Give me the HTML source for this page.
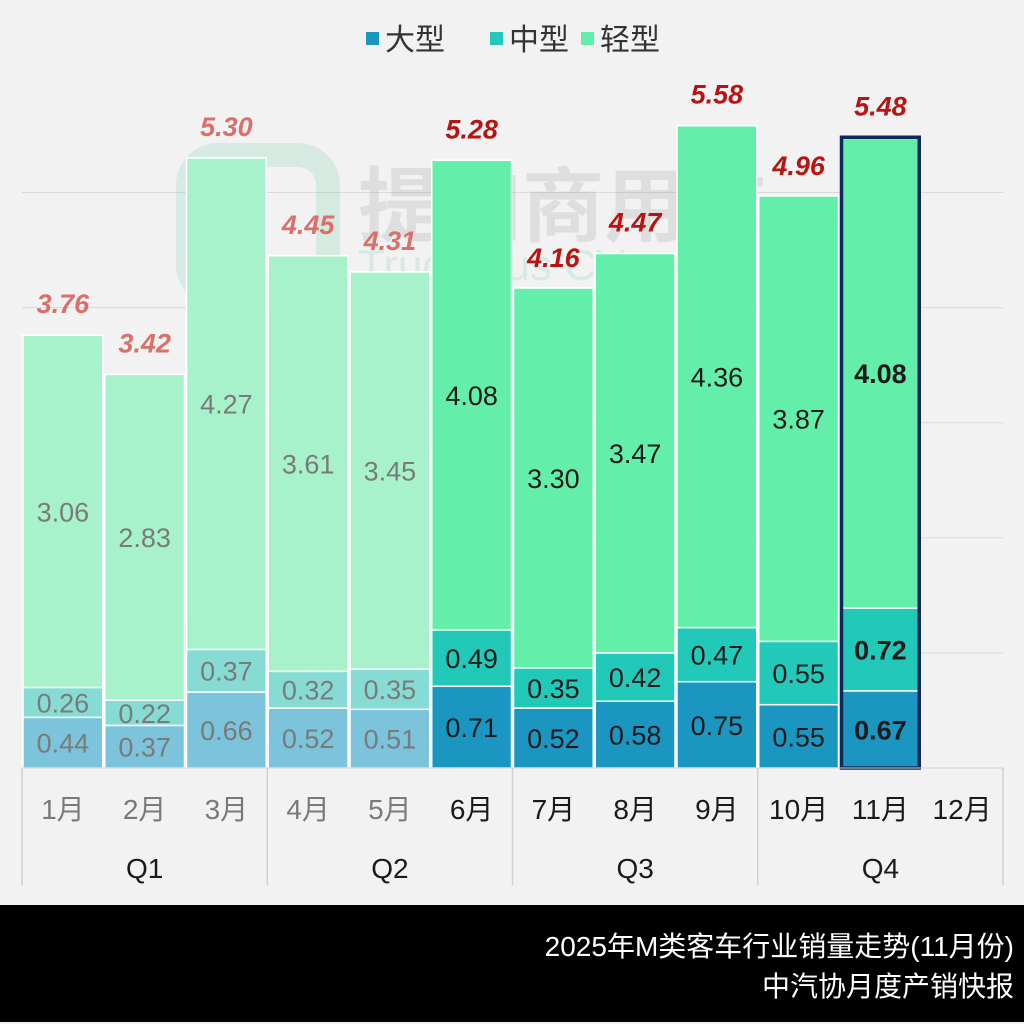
<!DOCTYPE html>
<html><head><meta charset="utf-8">
<style>
body{margin:0;background:#f2f2f2;font-family:"Liberation Sans","Noto Sans CJK SC",sans-serif;}
#wrap{position:relative;width:1024px;height:1024px;overflow:hidden;background:#f2f2f2;}
svg text{font-family:"Liberation Sans","Noto Sans CJK SC",sans-serif;}
</style></head>
<body>
<div id="wrap">
<svg id="chart" width="1024" height="1024"></svg>
</div>
<script>
const months=["1月","2月","3月","4月","5月","6月","7月","8月","9月","10月","11月","12月"];
const large=[0.44,0.37,0.66,0.52,0.51,0.71,0.52,0.58,0.75,0.55,0.67,null];
const medium=[0.26,0.22,0.37,0.32,0.35,0.49,0.35,0.42,0.47,0.55,0.72,null];
const light=[3.06,2.83,4.27,3.61,3.45,4.08,3.30,3.47,4.36,3.87,4.08,null];
const totals=[3.76,3.42,5.30,4.45,4.31,5.28,4.16,4.47,5.58,4.96,5.48,null];
const quarters=["Q1","Q2","Q3","Q4"];
const yTicks=[1,2,3,4,5];

const NS="http://www.w3.org/2000/svg";
const svg=document.getElementById('chart');
const X0=22,X1=1003,BASE=768,PPU=115.1;
const bw=(X1-X0)/12;
const xPos=i=>X0+i*bw;
const yPos=v=>BASE-v*PPU;
function mk(tag,attrs,parent){const e=document.createElementNS(NS,tag);for(const k in attrs)e.setAttribute(k,attrs[k]);(parent||svg).appendChild(e);return e;}

yTicks.forEach(t=>{
  const l=mk('line',{x1:X0,x2:X1,y1:yPos(t),y2:yPos(t),stroke:'#d9d9d9','stroke-width':1});
  
  
});

[[183,150,'#5fc9a0'],[183,610,'#5fc9a0']].forEach(([x,y,c])=>{
  const g=mk('g',{opacity:0.18});
  
  
  mk('rect',{x:x+5,y:y+5,width:140,height:140,rx:30,fill:'none',stroke:c,'stroke-width':24},g);
  const t=mk('text',{x:x+175,y:y+85,'font-size':82,'font-weight':'bold',fill:'#888'},g);t.textContent='提加商用车';
  const t2=mk('text',{x:x+175,y:y+130,'font-size':44,fill:c},g);t2.textContent='TruckPlus CV studio';
});

const colsFull={l:'#1a96c0',m:'#22c9b8',g:'#63eeaa'};
const colsFade={l:'#7cc3dc',m:'#86dcd5',g:'#a8f2cb'};
for(let i=0;i<12;i++){
  if(large[i]==null)continue;
  const fade=i<5, bold=i===10;
  const c=fade?colsFade:colsFull;
  const tc=fade?'#7a7a7a':'#1a1a1a';
  const x=xPos(i)+1,w=bw-2;
  const segs=[[large[i],c.l,'large'],[medium[i],c.m,'medium'],[light[i],c.g,'light']];
  let acc=0;
  segs.forEach(([v,col,nm])=>{
    const y1=yPos(acc+v),y0=yPos(acc);
    const r=mk('rect',{x:x,y:y1,width:w,height:y0-y1,fill:col,stroke:'#ffffff','stroke-width':1.5});
    
    
    const t=mk('text',{x:x+w/2,y:(y0+y1)/2+10,'text-anchor':'middle','font-size':27,fill:tc,'font-weight':bold?'bold':'normal'});
    t.textContent=v.toFixed(2);
    
    
    acc+=v;
  });
  if(bold){
    const b=mk('rect',{x:x+1,y:yPos(totals[i]),width:w-2,height:BASE-yPos(totals[i]),fill:'none',stroke:'#0d2a5a','stroke-width':3.5});
    
    
  }
  const tt=mk('text',{x:x+w/2,y:yPos(totals[i])-22,'text-anchor':'middle','font-size':27,'font-style':'italic','font-weight':'bold',fill:fade?'#d9706a':'#b81414'});
  tt.textContent=totals[i].toFixed(2);
  
  
}

const ax=mk('line',{x1:X0,x2:X1,y1:BASE,y2:BASE,stroke:'#d0d0d0','stroke-width':1});


for(let q=0;q<=4;q++){
  const l=mk('line',{x1:xPos(q*3),x2:xPos(q*3),y1:BASE,y2:885,stroke:'#d0d0d0','stroke-width':1.5});
  
  
}
months.forEach((m,i)=>{
  const t=mk('text',{x:xPos(i)+bw/2,y:819,'text-anchor':'middle','font-size':28,fill:i<5?'#7a7a7a':'#1a1a1a'});
  t.textContent=m;
  
  
});
quarters.forEach((q,i)=>{
  const t=mk('text',{x:xPos(i*3)+bw*1.5,y:878,'text-anchor':'middle','font-size':28,fill:'#1a1a1a'});
  t.textContent=q;
  
  
});

const leg=[['大型',colsFull.l,366],['中型',colsFull.m,490],['轻型',colsFull.g,581]];
const lg=mk('g',{});


leg.forEach(([n,c,x])=>{
  const r=mk('rect',{x:x,y:32,width:13,height:13,fill:c},lg);
  
  
  const t=mk('text',{x:x+19,y:50,'font-size':30,fill:'#333'},lg);t.textContent=n;
  
  
});

const f=mk('rect',{x:0,y:905,width:1024,height:117,fill:'#000'});


const f1=mk('text',{x:1014,y:956,'text-anchor':'end','font-size':28,fill:'#fff'});f1.textContent='2025年M类客车行业销量走势(11月份)';


const f2=mk('text',{x:1014,y:996,'text-anchor':'end','font-size':28,fill:'#fff'});f2.textContent='中汽协月度产销快报';


</script>
</body></html>
